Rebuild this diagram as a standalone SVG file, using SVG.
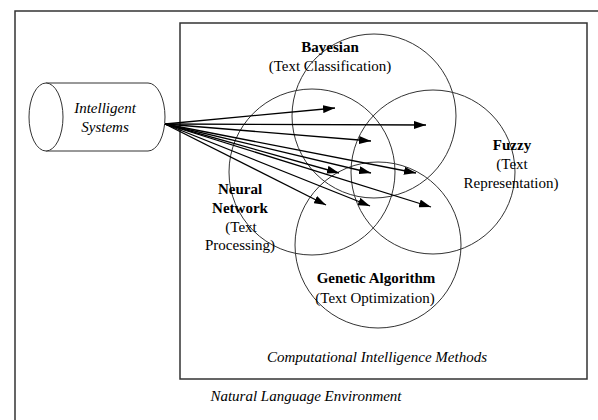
<svg xmlns="http://www.w3.org/2000/svg" width="598" height="420" viewBox="0 0 598 420">
<defs>
<marker id="ah" markerUnits="userSpaceOnUse" markerWidth="12" markerHeight="8" refX="12" refY="4" orient="auto">
<path d="M0,0 L12,4 L0,8 z" fill="#000"/>
</marker>
<style>
.box{fill:none;stroke:#333;stroke-width:1.5}
.circ{fill:none;stroke:#333;stroke-width:1}
.arr{stroke:#000;stroke-width:1.3;fill:none;marker-end:url(#ah)}
text{font-family:'Liberation Serif','Times New Roman','DejaVu Serif',serif;font-size:15px;fill:#000;text-anchor:middle}
.b{font-weight:bold}
.i{font-style:italic}
</style>
</defs>
<rect width="598" height="420" fill="#fff"/>
<g id="environment">
<rect class="box" x="15" y="11" width="600" height="420"/>
<text class="i" x="306" y="401">Natural Language Environment</text>
</g>
<g id="methods">
<rect class="box" x="180" y="23" width="407" height="356"/>
<text class="i" x="377" y="362">Computational Intelligence Methods</text>
</g>
<g id="bayesian">
<circle class="circ" cx="374" cy="116" r="82"/>
<text class="b" x="330" y="52">Bayesian</text>
<text x="330" y="71">(Text Classification)</text>
</g>
<g id="fuzzy">
<circle class="circ" cx="433" cy="172" r="82"/>
<text class="b" x="512" y="150">Fuzzy</text>
<text x="512" y="169">(Text</text>
<text x="511" y="188">Representation)</text>
</g>
<g id="neural">
<circle class="circ" cx="312" cy="172" r="83"/>
<text class="b" x="240" y="194">Neural</text>
<text class="b" x="240" y="213">Network</text>
<text x="241" y="232">(Text</text>
<text x="240" y="250">Processing)</text>
</g>
<g id="genetic">
<circle class="circ" cx="378" cy="245" r="83"/>
<text class="b" x="376" y="283">Genetic Algorithm</text>
<text x="375" y="303">(Text Optimization)</text>
</g>
<g id="intelligent-systems">
<path d="M46,83 L148,83 A17,34 0 0 1 148,151 L46,151 Z" fill="#fff" stroke="#333" stroke-width="1"/>
<ellipse cx="46" cy="117" rx="17" ry="34" fill="#fff" stroke="#333" stroke-width="1"/>
<text class="i" x="105" y="113">Intelligent</text>
<text class="i" x="105" y="132">Systems</text>
</g>
<g id="connectors">
<line class="arr" x1="165" y1="124" x2="335" y2="108"/>
<line class="arr" x1="165" y1="124" x2="426" y2="125"/>
<line class="arr" x1="165" y1="124" x2="371" y2="141"/>
<line class="arr" x1="165" y1="124" x2="339" y2="173"/>
<line class="arr" x1="165" y1="124" x2="371" y2="173"/>
<line class="arr" x1="165" y1="124" x2="416" y2="173"/>
<line class="arr" x1="165" y1="124" x2="326" y2="205"/>
<line class="arr" x1="165" y1="124" x2="370" y2="206"/>
<line class="arr" x1="165" y1="124" x2="431" y2="207"/>
</g>
</svg>
